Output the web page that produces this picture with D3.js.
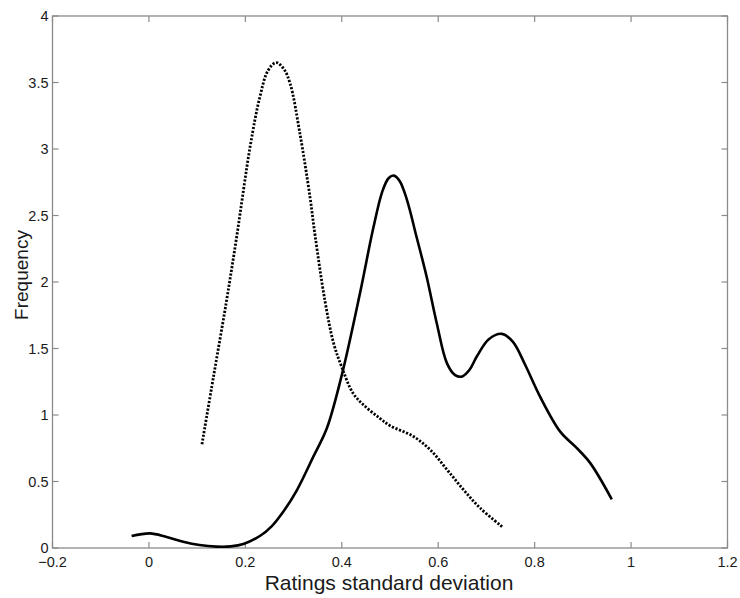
<!DOCTYPE html>
<html>
<head>
<meta charset="utf-8">
<script src="https://cdn.jsdelivr.net/npm/d3@7"></script>
<style>
  body { margin: 0; background: #fff; }
  text { font-family: "Liberation Sans", Arial, sans-serif; fill: #1a1a1a; }
</style>
</head>
<body>
<div id="chart"></div>
<script>
// solid curve (x, frequency)
const solidX = [-0.036, 0.002, 0.035, 0.071, 0.105, 0.14, 0.17, 0.196, 0.23, 0.255, 0.28, 0.307, 0.341, 0.369, 0.4, 0.438, 0.465, 0.484, 0.497, 0.508, 0.52, 0.535, 0.555, 0.576, 0.597, 0.618, 0.635, 0.65, 0.665, 0.68, 0.705, 0.732, 0.755, 0.78, 0.811, 0.853, 0.885, 0.915, 0.96];
const solidY = [0.09, 0.11, 0.085, 0.047, 0.022, 0.01, 0.012, 0.03, 0.09, 0.165, 0.28, 0.436, 0.687, 0.9, 1.3, 1.92, 2.4, 2.68, 2.78, 2.8, 2.76, 2.62, 2.34, 2.04, 1.69, 1.39, 1.3, 1.29, 1.34, 1.44, 1.57, 1.61, 1.55, 1.38, 1.14, 0.875, 0.76, 0.64, 0.366];

// dotted curve
const dotX = [0.11, 0.134, 0.161, 0.182, 0.21, 0.23, 0.247, 0.264, 0.28, 0.293, 0.313, 0.334, 0.345, 0.365, 0.383, 0.4, 0.424, 0.45, 0.479, 0.5, 0.548, 0.583, 0.618, 0.652, 0.687, 0.735];
const dotY = [0.78, 1.29, 1.86, 2.34, 3.02, 3.39, 3.59, 3.65, 3.6, 3.49, 3.12, 2.64, 2.34, 1.86, 1.54, 1.36, 1.16, 1.06, 0.975, 0.92, 0.84, 0.74, 0.59, 0.44, 0.30, 0.153];

const xTicks = [-0.2, 0, 0.2, 0.4, 0.6, 0.8, 1, 1.2];
const yTicks = [0, 0.5, 1, 1.5, 2, 2.5, 3, 3.5, 4];

const W = 740, H = 598;
const m = {left: 52.5, right: 12.5, top: 16, bottom: 50};

const svg = d3.select('#chart').append('svg')
    .attr('width', W).attr('height', H);

const x = d3.scaleLinear().domain([-0.2, 1.2]).range([m.left, W - m.right]);
const y = d3.scaleLinear().domain([0, 4]).range([H - m.bottom, m.top]);

const axisColor = '#8a8a8a';
const tick = 6;

// box
svg.append('rect')
    .attr('x', x(-0.2)).attr('y', y(4))
    .attr('width', x(1.2) - x(-0.2)).attr('height', y(0) - y(4))
    .attr('fill', 'none').attr('stroke', axisColor).attr('stroke-width', 1.3);

// inward ticks on all four sides
const g = svg.append('g').attr('stroke', axisColor).attr('stroke-width', 1.2);
xTicks.forEach(t => {
  g.append('line').attr('x1', x(t)).attr('x2', x(t)).attr('y1', y(0)).attr('y2', y(0) - tick);
  g.append('line').attr('x1', x(t)).attr('x2', x(t)).attr('y1', y(4)).attr('y2', y(4) + tick);
});
yTicks.forEach(t => {
  g.append('line').attr('x1', x(-0.2)).attr('x2', x(-0.2) + tick).attr('y1', y(t)).attr('y2', y(t));
  g.append('line').attr('x1', x(1.2)).attr('x2', x(1.2) - tick).attr('y1', y(t)).attr('y2', y(t));
});

// tick labels
svg.append('g').selectAll('text').data(xTicks).enter().append('text')
    .attr('x', d => x(d)).attr('y', y(0) + 19)
    .attr('text-anchor', 'middle').style('font-size', '14.5px')
    .text(d => d3.format('')(d));

svg.append('g').selectAll('text').data(yTicks).enter().append('text')
    .attr('x', x(-0.2) - 4).attr('y', d => y(d) + 5)
    .attr('text-anchor', 'end').style('font-size', '14.5px')
    .text(d => d);

// axis labels
svg.append('text')
    .attr('x', 389).attr('y', 590)
    .attr('text-anchor', 'middle').style('font-size', '21px')
    .text('Ratings standard deviation');

svg.append('text')
    .attr('transform', 'translate(28,275) rotate(-90)')
    .attr('text-anchor', 'middle').style('font-size', '19px')
    .text('Frequency');

const line = d3.line()
    .x(d => x(d[0])).y(d => y(d[1]))
    .curve(d3.curveCatmullRom.alpha(0.5));

svg.append('path')
    .datum(d3.zip(solidX, solidY))
    .attr('d', line)
    .attr('fill', 'none').attr('stroke', '#000').attr('stroke-width', 2.6);

svg.append('path')
    .datum(d3.zip(dotX, dotY))
    .attr('d', line)
    .attr('fill', 'none').attr('stroke', '#000').attr('stroke-width', 2.8)
    .attr('stroke-dasharray', '2.2,1.6');
</script>
</body>
</html>
